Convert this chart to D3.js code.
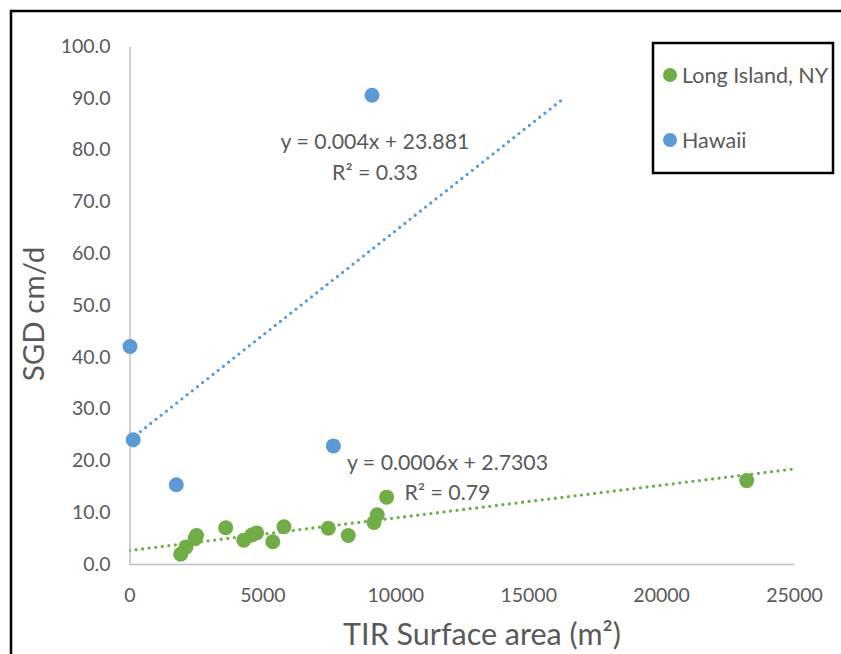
<!DOCTYPE html>
<html>
<head>
<meta charset="utf-8">
<script src="https://cdn.jsdelivr.net/npm/d3@7"></script>
<style>
  html, body { margin: 0; padding: 0; background: #fff; }
  svg { display: block; }
  text { font-family: Lato, "Open Sans", sans-serif; fill: #595959; }
</style>
</head>
<body>
<svg id="chart" width="841" height="654"></svg>
<script>
// ---- Data ----
const seriesNames = ["Long Island, NY", "Hawaii"];
const seriesColors = ["#70AD47", "#5B9BD5"];

const longIslandX = [1926, 2125, 2470, 2520, 3620, 4300, 4600, 4780, 5390, 5810, 7480, 8230, 9200, 9320, 9676, 23220];
const longIslandY = [1.9, 3.3, 4.9, 5.5, 7.0, 4.6, 5.6, 6.0, 4.3, 7.2, 6.9, 5.5, 8.0, 9.5, 12.9, 16.1];

const hawaiiX = [20, 140, 1760, 7670, 9123];
const hawaiiY = [42.0, 24.0, 15.3, 22.8, 90.5];

// trendlines: [slope, intercept, xStart, xEnd]
const longIslandTrend = [0.00063, 2.6, 0, 25000];
const hawaiiTrend = [0.00404, 23.9, 20, 16250];

const longIslandEq = ["y = 0.0006x + 2.7303", "R\u00B2 = 0.79"];
const hawaiiEq = ["y = 0.004x + 23.881", "R\u00B2 = 0.33"];

const xTicks = [0, 5000, 10000, 15000, 20000, 25000];
const yTicks = [0, 10, 20, 30, 40, 50, 60, 70, 80, 90, 100];

const xTitle = "TIR Surface area (m\u00B2)";
const yTitle = "SGD cm/d";

// ---- Drawing ----
const svg = d3.select("#chart");
const plot = { left: 129.5, right: 794, top: 46, bottom: 564 };

const x = d3.scaleLinear().domain([0, 25000]).range([plot.left, plot.right]);
const y = d3.scaleLinear().domain([0, 100]).range([plot.bottom, plot.top]);

// outer chart border
svg.append("rect")
  .attr("x", 11).attr("y", 11)
  .attr("width", 850).attr("height", 660)
  .attr("fill", "none").attr("stroke", "#000").attr("stroke-width", 2.5);

svg.append("defs").append("clipPath").attr("id", "plotclip")
  .append("rect")
  .attr("x", plot.left).attr("y", plot.top)
  .attr("width", plot.right - plot.left).attr("height", plot.bottom - plot.top);

// axes
const xAxis = svg.append("g")
  .attr("transform", `translate(0,${plot.bottom})`)
  .call(d3.axisBottom(x).tickValues(xTicks).tickFormat(d3.format("d")).tickSize(0).tickPadding(24));
xAxis.select(".domain").attr("stroke", "#BFBFBF").attr("stroke-width", 1.5);
xAxis.selectAll("text").attr("font-size", 19.5).attr("fill", "#595959").style("font-family", "Lato");

const yAxis = svg.append("g")
  .attr("transform", `translate(${plot.left},0)`)
  .call(d3.axisLeft(y).tickValues(yTicks).tickFormat(d3.format(".1f")).tickSize(0).tickPadding(19));
yAxis.select(".domain").attr("stroke", "#BFBFBF").attr("stroke-width", 1.5);
yAxis.selectAll("text").attr("font-size", 19.5).attr("fill", "#595959").style("font-family", "Lato");

// axis titles
svg.append("text")
  .attr("x", 482).attr("y", 645)
  .attr("text-anchor", "middle")
  .attr("font-size", 30.5)
  .text(xTitle);

svg.append("text")
  .attr("transform", "translate(44,314) rotate(-90)")
  .attr("text-anchor", "middle")
  .attr("font-size", 29.5)
  .text(yTitle);

// trendlines
const trendGroup = svg.append("g").attr("clip-path", "url(#plotclip)");
function drawTrend(t, color) {
  const pts = [t[2], t[3]].map(v => [x(v), y(t[0] * v + t[1])]);
  trendGroup.append("path")
    .attr("d", d3.line()(pts))
    .attr("fill", "none")
    .attr("stroke", color)
    .attr("stroke-width", 3.3)
    .attr("stroke-linecap", "round")
    .attr("stroke-dasharray", "0 6.6");
}
drawTrend(longIslandTrend, seriesColors[0]);
drawTrend(hawaiiTrend, seriesColors[1]);

// points
function drawPoints(xs, ys, color) {
  svg.append("g").selectAll("circle")
    .data(xs.map((v, i) => [v, ys[i]]))
    .join("circle")
    .attr("cx", d => x(d[0]))
    .attr("cy", d => y(d[1]))
    .attr("r", 7.5)
    .attr("fill", color);
}
drawPoints(longIslandX, longIslandY, seriesColors[0]);
drawPoints(hawaiiX, hawaiiY, seriesColors[1]);

// trendline labels
const eqSize = 21.3;
svg.append("text").attr("x", 375).attr("y", 149).attr("text-anchor", "middle").attr("font-size", eqSize).text(hawaiiEq[0]);
svg.append("text").attr("x", 375).attr("y", 180).attr("text-anchor", "middle").attr("font-size", eqSize).text(hawaiiEq[1]);
svg.append("text").attr("x", 447.5).attr("y", 470).attr("text-anchor", "middle").attr("font-size", eqSize).text(longIslandEq[0]);
svg.append("text").attr("x", 447.5).attr("y", 500).attr("text-anchor", "middle").attr("font-size", eqSize).text(longIslandEq[1]);

// legend
const legend = svg.append("g");
legend.append("rect")
  .attr("x", 653).attr("y", 43).attr("width", 180).attr("height", 130)
  .attr("fill", "#fff").attr("stroke", "#000").attr("stroke-width", 2.5);
const legendY = [75, 140];
seriesNames.forEach((name, i) => {
  legend.append("circle").attr("cx", 670).attr("cy", legendY[i]).attr("r", 7).attr("fill", seriesColors[i]);
  legend.append("text").attr("x", 682).attr("y", legendY[i]).attr("dy", "0.35em")
    .attr("font-size", 21.5).text(name);
});
</script>
</body>
</html>
